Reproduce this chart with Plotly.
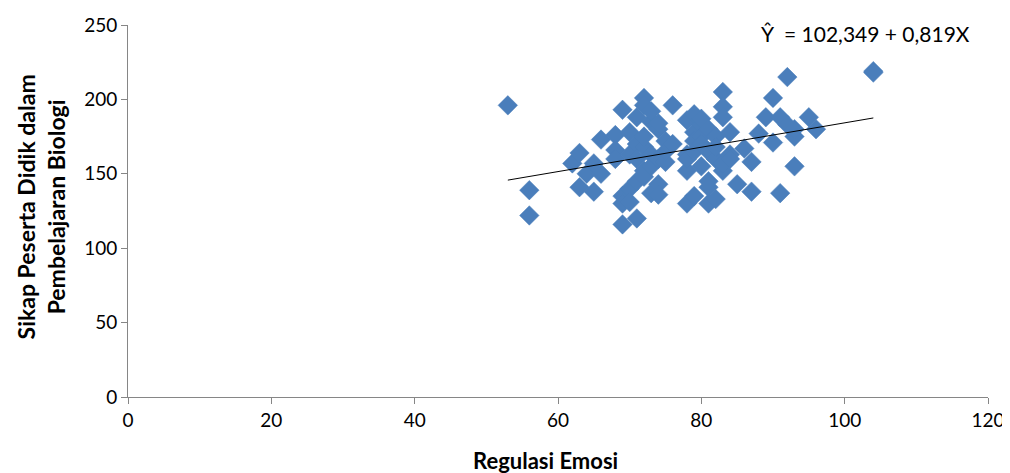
import plotly.graph_objects as go

# Data
regulasi_emosi = [
    53, 56, 56, 62, 63, 63, 64, 65, 65, 66, 66, 68, 68, 68, 69, 69, 69, 69,
    70, 70, 70, 70, 71, 71, 71, 71, 71, 72, 72, 72, 72, 72, 72, 73, 73, 73, 73, 73,
    74, 74, 74, 74, 74, 75, 75, 75, 76, 76, 78, 78, 78, 78, 78, 79, 79, 79, 79, 79,
    80, 80, 80, 80, 80, 81, 81, 81, 81, 81, 82, 82, 82, 82, 83, 83, 83, 83, 83,
    84, 84, 84, 85, 86, 87, 87, 88, 89, 90, 90, 91, 91, 92, 92, 93, 93, 93, 95, 96,
    104, 104,
]
sikap = [
    196, 139, 122, 157, 164, 141, 150, 138, 157, 173, 150, 176, 166, 160, 193, 116, 135, 130,
    178, 163, 140, 131, 120, 145, 170, 188, 160, 201, 152, 168, 175, 148, 196, 185, 192, 163, 137, 155,
    143, 180, 160, 136, 184, 172, 158, 165, 196, 170, 130, 186, 152, 163, 160, 190, 178, 135, 165, 172,
    183, 155, 175, 187, 170, 130, 145, 141, 180, 165, 133, 160, 175, 168, 205, 195, 188, 152, 157,
    178, 163, 160, 143, 167, 138, 158, 177, 188, 201, 171, 137, 188, 215, 183, 155, 175, 180, 188, 180,
    219, 218,
]

# Regression equation from the chart
intercept = 102.349
slope = 0.819
line_x = [53, 104]
line_y = [intercept + slope * v for v in line_x]

x_ticks = [0, 20, 40, 60, 80, 100, 120]
y_ticks = [0, 50, 100, 150, 200, 250]

x_title = "Regulasi Emosi"
y_title = "Sikap Peserta Didik dalam<br>Pembelajaran Biologi"
equation = "Ŷ  = 102,349 + 0,819X"

font_family = "Lato, 'Open Sans', sans-serif"
axis_color = "#868686"

fig = go.Figure()
fig.add_trace(go.Scatter(
    x=regulasi_emosi, y=sikap, mode="markers",
    marker=dict(symbol="diamond", size=15, color="#4A7EBB",
                line=dict(width=0.5, color="#4A7EBB")),
    showlegend=False, hoverinfo="x+y",
))
fig.add_trace(go.Scatter(
    x=line_x, y=line_y, mode="lines",
    line=dict(color="#000000", width=1),
    showlegend=False, hoverinfo="skip",
))

fig.add_annotation(
    x=102.9, y=244.5, xref="x", yref="y",
    text=equation, showarrow=False,
    font=dict(family=font_family, size=21, color="#000000"),
    xanchor="center", yanchor="middle",
)
fig.add_annotation(
    x=0.486, y=-0.17, xref="paper", yref="paper",
    text="<b>" + x_title + "</b>", showarrow=False,
    font=dict(family=font_family, size=22, color="#000000"),
    xanchor="center", yanchor="middle",
)
fig.add_annotation(
    x=-0.101, y=0.51, xref="paper", yref="paper",
    text="<b>" + y_title + "</b>", showarrow=False, textangle=-90,
    font=dict(family=font_family, size=23, color="#000000"),
    xanchor="center", yanchor="middle",
)

fig.update_layout(
    width=1002, height=465,
    margin=dict(l=120, r=22, t=17, b=76),
    plot_bgcolor="white", paper_bgcolor="white",
    font=dict(family=font_family, color="#000000"),
)
fig.update_xaxes(
    range=[0, 120], tickvals=x_ticks, ticktext=[str(v) for v in x_ticks],
    showgrid=False, zeroline=False, showline=True, linecolor=axis_color, linewidth=1,
    ticks="outside", ticklen=6, tickcolor=axis_color, automargin=False,
    tickfont=dict(size=19, family=font_family, color="#000000"),
)
fig.update_yaxes(
    range=[0, 250], tickvals=y_ticks, ticktext=[str(v) for v in y_ticks],
    showgrid=False, zeroline=False, showline=True, linecolor=axis_color, linewidth=1,
    ticks="outside", ticklen=6, tickcolor=axis_color, automargin=False,
    tickfont=dict(size=19, family=font_family, color="#000000"),
)

fig.write_html("out.html")
